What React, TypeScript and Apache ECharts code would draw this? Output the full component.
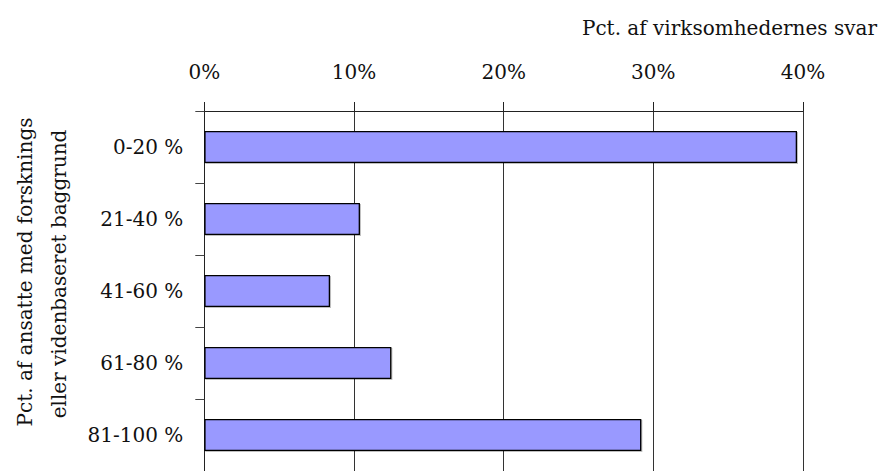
import React, { useEffect, useRef } from "react";
import * as echarts from "echarts";

const categories = ["0-20 %", "21-40 %", "41-60 %", "61-80 %", "81-100 %"];
const values = [39.6, 10.4, 8.4, 12.5, 29.2];
const xTicks = { min: 0, max: 40, interval: 10 };
const title = "Pct. af virksomhedernes svar";
const yNameLines = ["Pct. af ansatte med forsknings", "eller videnbaseret baggrund"];

const FONT = "DejaVu Serif";
const FS = 20;

export default function App() {
  const ref = useRef<HTMLDivElement>(null);
  useEffect(() => {
    if (!ref.current) return;
    const chart = echarts.init(ref.current, undefined, { renderer: "svg" });
    chart.setOption({
      animation: false,
      backgroundColor: "#ffffff",
      textStyle: { fontFamily: FONT },
      grid: { left: 204.3, right: 77, top: 111, height: 367, containLabel: false },
      xAxis: {
        type: "value",
        position: "top",
        min: xTicks.min,
        max: xTicks.max,
        interval: xTicks.interval,
        axisLine: { show: true, lineStyle: { color: "#222", width: 1 } },
        axisTick: { show: true, length: 9, lineStyle: { color: "#222" } },
        axisLabel: {
          formatter: "{value}%",
          fontSize: FS,
          color: "#111",
          fontFamily: FONT,
          margin: 29,
        },
        splitLine: { show: true, lineStyle: { color: "#333", width: 1 } },
      },
      yAxis: {
        type: "category",
        inverse: true,
        data: categories,
        axisLine: { show: true, lineStyle: { color: "#222", width: 1 } },
        axisTick: { show: true, length: 9, lineStyle: { color: "#444" } },
        axisLabel: {
          fontSize: FS,
          color: "#111",
          fontFamily: FONT,
          margin: 21,
          padding: [4, 0, 0, 0],
        },
      },
      series: [
        {
          type: "bar",
          data: values,
          barWidth: 32,
          itemStyle: {
            color: "#9999FF",
            borderColor: "#000",
            borderWidth: 1.3,
            shadowColor: "rgba(0,0,0,0.25)",
            shadowOffsetX: 1,
            shadowOffsetY: 1,
            shadowBlur: 1,
          },
        },
      ],
      graphic: [
        {
          type: "text",
          right: 3,
          top: 18,
          style: { text: title, fontSize: FS, fontFamily: FONT, fill: "#111" },
        },
        {
          type: "text",
          x: 25,
          y: 272,
          rotation: Math.PI / 2,
          style: {
            text: yNameLines[0],
            fontSize: FS,
            fontFamily: FONT,
            fill: "#111",
            align: "center",
            verticalAlign: "middle",
          },
        },
        {
          type: "text",
          x: 59,
          y: 274,
          rotation: Math.PI / 2,
          style: {
            text: yNameLines[1],
            fontSize: FS,
            fontFamily: FONT,
            fill: "#111",
            align: "center",
            verticalAlign: "middle",
          },
        },
      ],
    });
    return () => chart.dispose();
  }, []);
  return (
    <div
      ref={ref}
      style={{ position: "absolute", left: 0, top: 0, width: 880, height: 471 }}
    />
  );
}
